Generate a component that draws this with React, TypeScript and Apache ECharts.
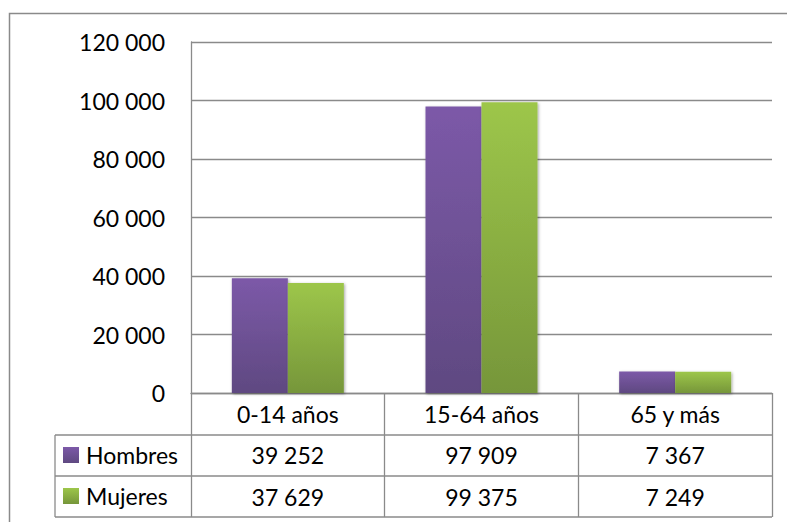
import React, { useEffect, useRef } from "react";
import * as echarts from "echarts";

const categories = ["0-14 años", "15-64 años", "65 y más"];
const seriesNames = ["Hombres", "Mujeres"];
const hombres = [39252, 97909, 7367];
const mujeres = [37629, 99375, 7249];
const yTicks = { min: 0, max: 120000, interval: 20000 };

const fmt = (v: number) => String(v).replace(/\B(?=(\d{3})+(?!\d))/g, " ");

const FONT = "Lato";
const FS = 23;
const GRAY = "#8a8a8a";

export default function App() {
  const ref = useRef<HTMLDivElement>(null);
  useEffect(() => {
    document.body.style.margin = "0";
    if (!ref.current) return;
    const chart = echarts.init(ref.current, null, { renderer: "svg" });
    const purple = new echarts.graphic.LinearGradient(0, 0, 0, 1, [
      { offset: 0, color: "#7c59a8" },
      { offset: 1, color: "#5f4981" },
    ]);
    const green = new echarts.graphic.LinearGradient(0, 0, 0, 1, [
      { offset: 0, color: "#9dc64a" },
      { offset: 1, color: "#76963a" },
    ]);
    const tableLine = (x1: number, y1: number, x2: number, y2: number) => ({
      type: "line",
      shape: { x1, y1, x2, y2 },
      style: { stroke: GRAY, lineWidth: 1.3 },
      silent: true,
    });
    chart.setOption({
      animation: false,
      textStyle: { fontFamily: FONT, color: "#000" },
      grid: { left: 191, right: 15, top: 42, bottom: 129 },
      legend: {
        orient: "vertical",
        left: 63,
        top: 441,
        height: 120,
        padding: 0,
        itemGap: 13,
        itemWidth: 16,
        itemHeight: 16,
        icon: "rect",
        data: seriesNames,
        textStyle: { fontFamily: FONT, fontSize: FS, lineHeight: 28, color: "#000", padding: [0, 0, 0, 2] },
      },
      xAxis: {
        type: "category",
        data: categories,
        axisLine: { show: true, lineStyle: { color: GRAY, width: 1.3 } },
        axisTick: { show: true, length: 124, lineStyle: { color: GRAY, width: 1.3 }, interval: 0 },
        axisLabel: {
          interval: 0,
          margin: 0,
          fontFamily: FONT,
          fontSize: FS,
          color: "#000",
          lineHeight: 41.5,
          formatter: (v: string, i: number) => `${v}\n${fmt(hombres[i])}\n${fmt(mujeres[i])}`,
        },
        splitLine: { show: false },
      },
      yAxis: {
        type: "value",
        min: yTicks.min,
        max: yTicks.max,
        interval: yTicks.interval,
        axisLine: { show: true, lineStyle: { color: GRAY, width: 1.3 } },
        axisTick: { show: false },
        axisLabel: { margin: 26, fontFamily: FONT, fontSize: FS, color: "#000", formatter: (v: number) => fmt(v) },
        splitLine: { show: true, lineStyle: { color: GRAY, width: 1.3 } },
      },
      series: [
        {
          name: seriesNames[0],
          type: "bar",
          data: hombres,
          barWidth: 56,
          barGap: "0%",
          itemStyle: { color: purple, shadowColor: "rgba(0,0,0,0.35)", shadowBlur: 3, shadowOffsetX: 1, shadowOffsetY: 1 },
        },
        {
          name: seriesNames[1],
          type: "bar",
          data: mujeres,
          barWidth: 56,
          barGap: "0%",
          itemStyle: { color: green, shadowColor: "rgba(0,0,0,0.35)", shadowBlur: 3, shadowOffsetX: 1, shadowOffsetY: 1 },
        },
      ],
      graphic: [
        {
          type: "rect",
          shape: { x: 9.5, y: 13.5, width: 900, height: 600 },
          style: { fill: "none", stroke: GRAY, lineWidth: 1.5 },
          silent: true,
          z: -1,
        },
        tableLine(55, 435, 772, 435),
        tableLine(55, 476, 772, 476),
        tableLine(55, 517, 772, 517),
        tableLine(55, 435, 55, 517),
      ],
    });
    return () => chart.dispose();
  }, []);
  return <div ref={ref} style={{ width: 787, height: 522 }} />;
}
